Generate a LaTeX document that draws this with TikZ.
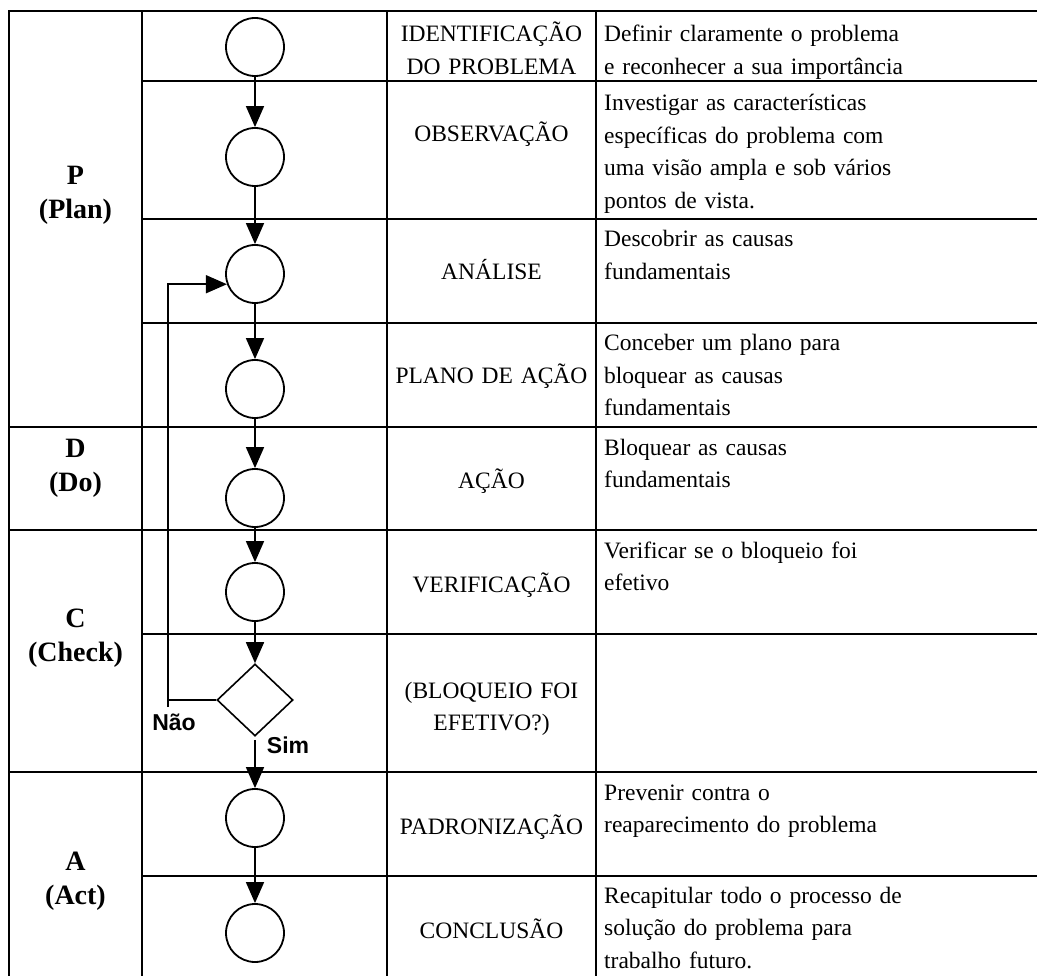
\documentclass[tikz,border=0pt]{standalone}
\usepackage{fontspec}
\setmainfont{Liberation Serif}
\setsansfont{Liberation Sans}
\usetikzlibrary{shapes.geometric,arrows.meta}

\tikzset{
  grade/.style={line width=2.8pt},
  etapa/.style={draw,circle,line width=1.8pt,minimum size=58pt,inner sep=0pt},
  decisao/.style={draw,diamond,line width=1.6pt,minimum width=76pt,minimum height=72pt,inner sep=0pt},
  linha/.style={line width=1.6pt},
  fluxo/.style={linha,-{Triangle[length=21pt,width=18pt]}},
  fase/.style={font=\fontsize{28}{34}\selectfont\bfseries,text width=130pt,align=center,inner sep=0pt,anchor=base},
  nome/.style={font=\fontsize{23.5}{32.5}\selectfont,text width=205pt,align=center,inner sep=0pt,anchor=base},
  texto/.style={font=\fontsize{23.5}{32.5}\selectfont,text width=425pt,align=left,inner sep=0pt,anchor=base west},
  resposta/.style={font=\fontsize{23}{26}\selectfont\sffamily\bfseries,inner sep=0pt}
}

\begin{document}
\begin{tikzpicture}[x=1pt,y=-1pt]
                \useasboundingbox (0,0) rectangle (1037,976);

                % tabela
                \draw[grade] (9,976) -- (9,11) -- (1037,11);
                \foreach \x in {142,387,596}
                    \draw[grade] (\x,11) -- (\x,976);
                \foreach \y in {427,530,772}
                    \draw[grade] (9,\y) -- (1037,\y);
                \foreach \y in {81,219,323,634,876}
                    \draw[grade] (142,\y) -- (1037,\y);

                % fases
                \node[fase] (P) at (75.5,185) {P\\(Plan)};
                \node[fase] (D) at (75.5,457) {D\\(Do)};
                \node[fase] (C) at (75.5,627) {C\\(Check)};
                \node[fase] (A) at (75.5,870) {A\\(Act)};

                % fluxo
                \node[etapa] (E1) at (255,47) {};
                \node[etapa] (E2) at (255,157) {};
                \node[etapa] (E3) at (255,274) {};
                \node[etapa] (E4) at (255,389) {};
                \node[etapa] (E5) at (255,498) {};
                \node[etapa] (E6) at (255,592) {};
                \node[decisao] (Q) at (255,700) {};
                \node[etapa] (E7) at (255,818) {};
                \node[etapa] (E8) at (255,933) {};
                \coordinate (V) at (168,707);

                \draw[fluxo] (E1) -- (E2);
                \draw[fluxo] (E2) -- (E3);
                \draw[fluxo] (E3) -- (E4);
                \draw[fluxo] (E4) -- (E5);
                \draw[fluxo] (E5) -- (E6);
                \draw[fluxo] (E6) -- (Q);
                \draw[fluxo,shorten <=3pt] (Q) -- (E7);
                \draw[fluxo] (E7) -- (E8);
                \draw[linha] (Q.west) -- (Q.west -| V);
                \draw[fluxo] (V) |- (E3.200);

                \node[resposta] (N) at (174,722) {Não};
                \node[resposta] (S) at (288,745) {Sim};

                % etapas
                \node[nome] (T1) at (491.5,42) {IDENTIFICAÇÃO\\DO PROBLEMA};
                \node[nome] (T2) at (491.5,142) {OBSERVAÇÃO};
                \node[nome] (T3) at (491.5,280) {ANÁLISE};
                \node[nome] (T4) at (491.5,384) {PLANO DE AÇÃO};
                \node[nome] (T5) at (491.5,488) {AÇÃO};
                \node[nome] (T6) at (491.5,592) {VERIFICAÇÃO};
                \node[nome] (T7) at (491.5,698) {(BLOQUEIO FOI\\EFETIVO?)};
                \node[nome] (T8) at (491.5,834) {PADRONIZAÇÃO};
                \node[nome] (T9) at (491.5,938) {CONCLUSÃO};

                % objetivos
                \node[texto] (O1) at (604,42) {Definir claramente o problema\\e reconhecer a sua importância};
                \node[texto] (O2) at (604,111) {Investigar as características\\específicas do problema com\\uma visão ampla e sob vários\\pontos de vista.};
                \node[texto] (O3) at (604,247) {Descobrir as causas\\fundamentais};
                \node[texto] (O4) at (604,351) {Conceber um plano para\\bloquear as causas\\fundamentais};
                \node[texto] (O5) at (604,455) {Bloquear as causas\\fundamentais};
                \node[texto] (O6) at (604,558) {Verificar se o bloqueio foi\\efetivo};
                \node[texto] (O8) at (604,800) {Prevenir contra o\\reaparecimento do problema};
                \node[texto] (O9) at (604,903) {Recapitular todo o processo de\\solução do problema para\\trabalho futuro.};
\end{tikzpicture}
\end{document}
